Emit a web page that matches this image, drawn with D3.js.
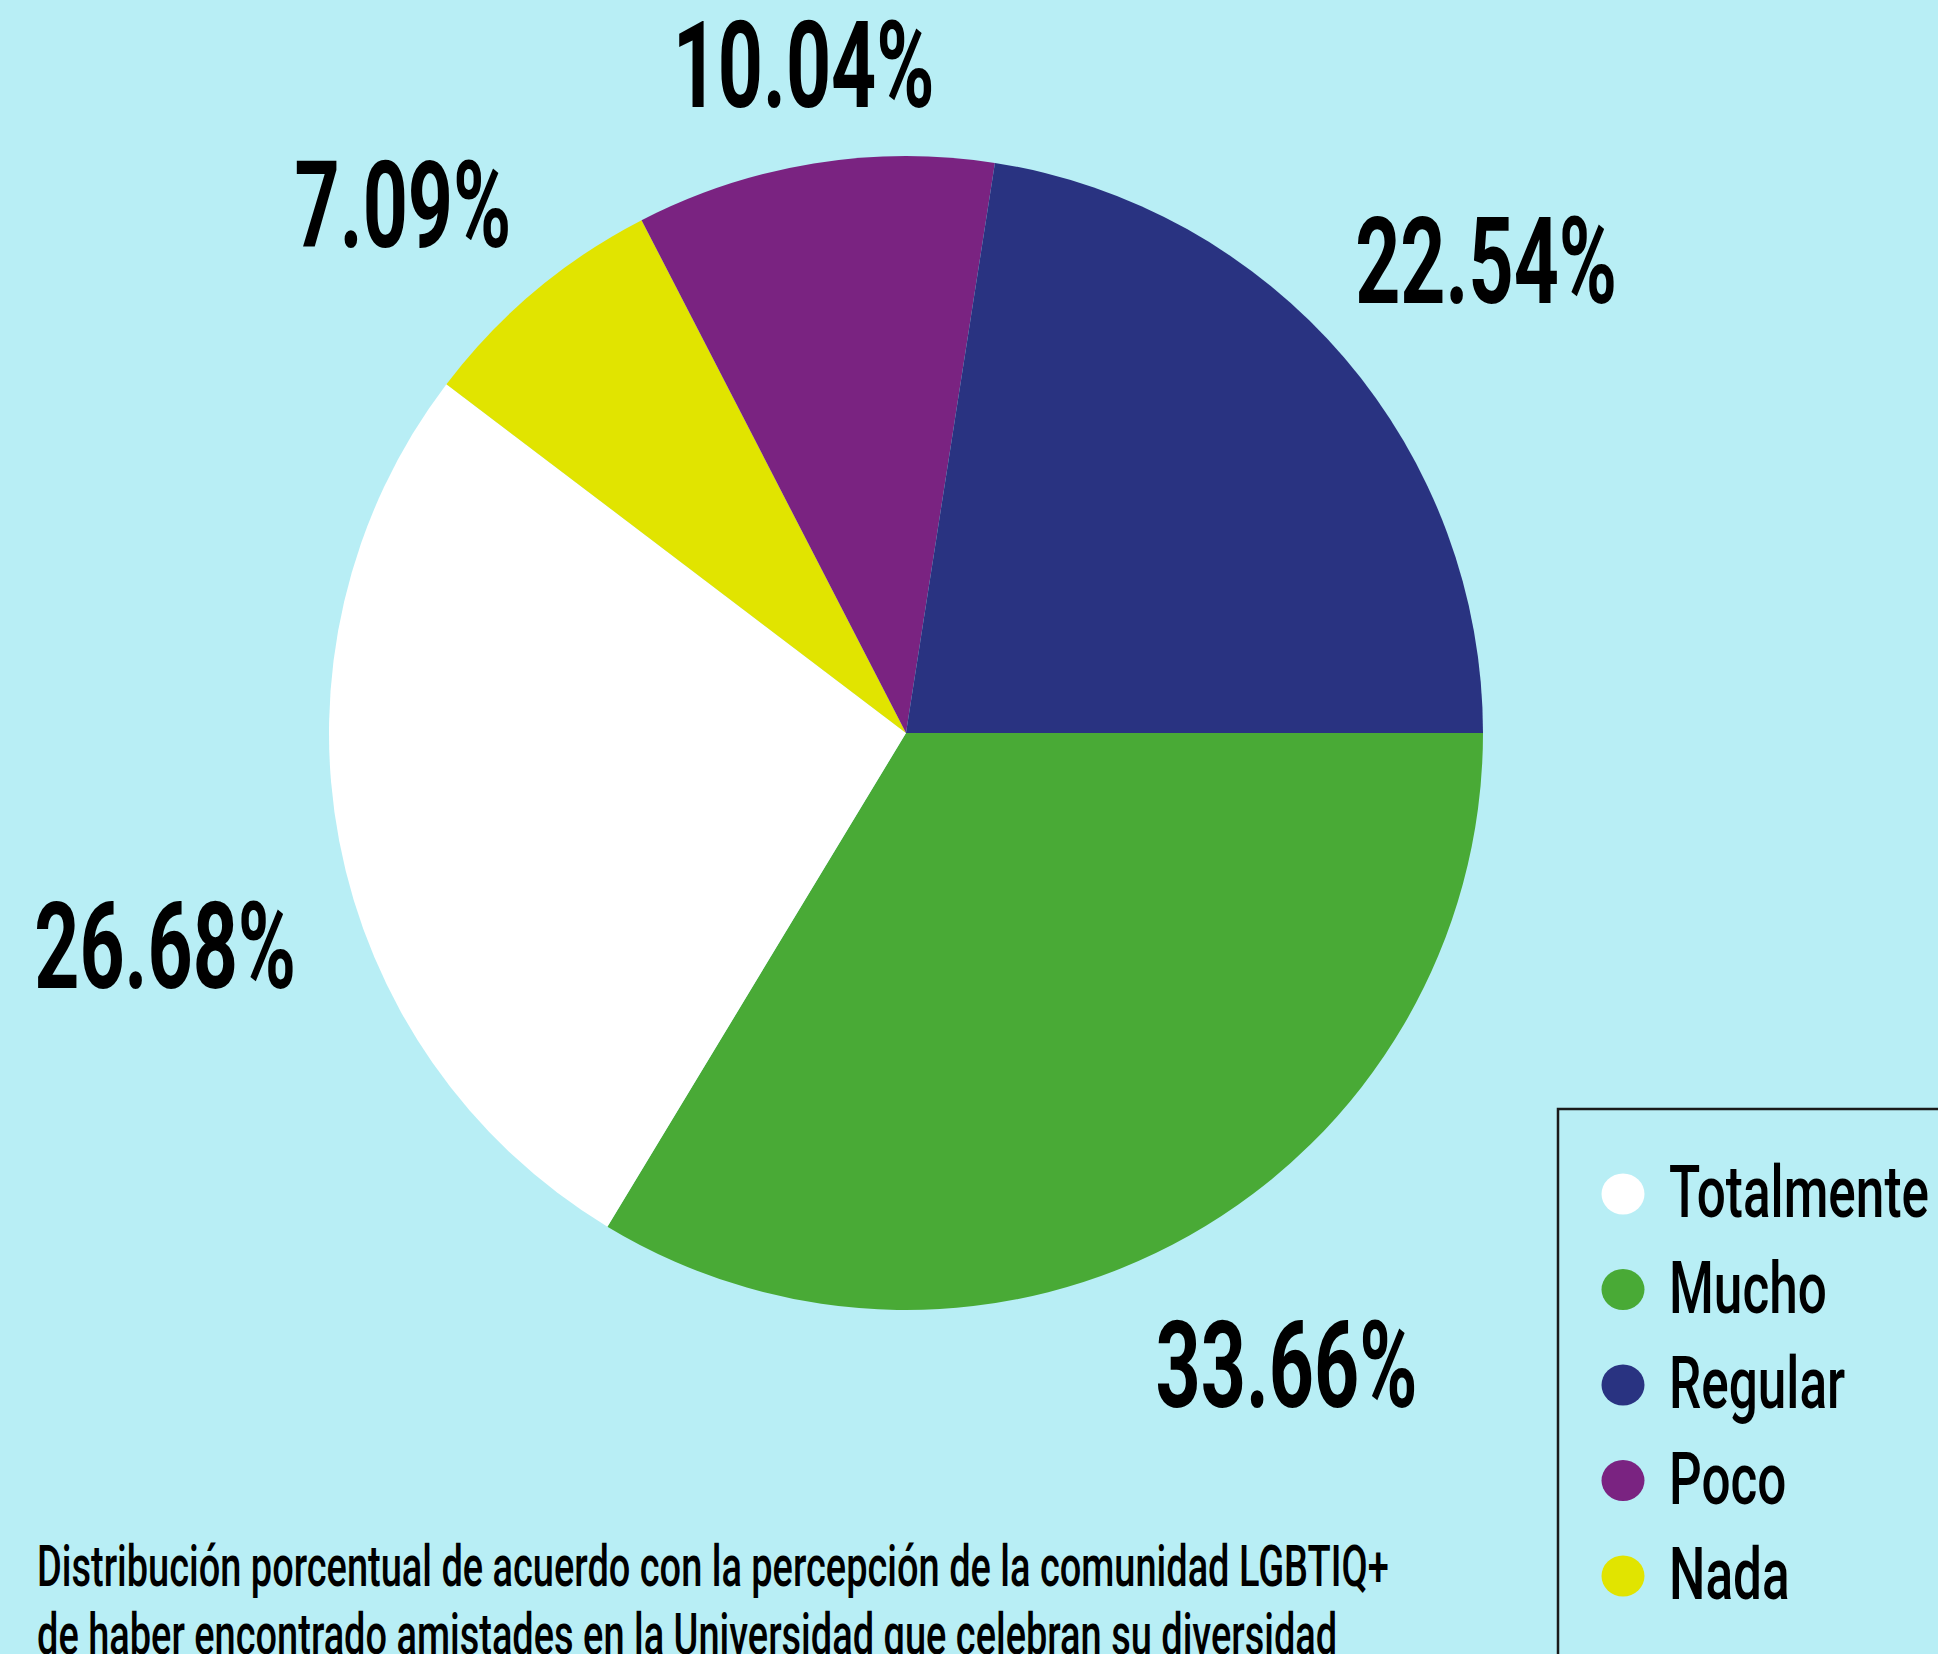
<!DOCTYPE html>
<html>
<head>
<meta charset="utf-8">
<script src="https://cdn.jsdelivr.net/npm/d3@7"></script>
<style>
  html, body { margin: 0; padding: 0; background: #b8eef5; overflow: hidden; }
  svg { display: block; }
</style>
</head>
<body>
<svg id="chart" width="1938" height="1654"></svg>
<script>
// ---- data ----
const categories = ["Mucho", "Totalmente", "Nada", "Poco", "Regular"];
const values = [33.66, 26.68, 7.09, 10.04, 22.54];
const valueLabels = ["33.66%", "26.68%", "7.09%", "10.04%", "22.54%"];
const legendOrder = ["Totalmente", "Mucho", "Regular", "Poco", "Nada"];
const captionLines = [
  "Distribución porcentual de acuerdo con la percepción de la comunidad LGBTIQ+",
  "de haber encontrado amistades en la Universidad que celebran su diversidad"
];

// ---- styling / layout ----
const colors = {
  "Totalmente": "#ffffff",
  "Mucho": "#49aa36",
  "Regular": "#293381",
  "Poco": "#7a2381",
  "Nada": "#e1e400"
};
const FONT = "Roboto, 'DejaVu Sans Condensed', sans-serif";
const W = 1938, H = 1654;
const cx = 906, cy = 733, R = 577;
const labelR = 740;
const labelNudge = {
  "Mucho": [17, -13],
  "Totalmente": [-14, 74],
  "Nada": [-27, 39],
  "Poco": [16, 62],
  "Regular": [18, 9]
};

const svg = d3.select("#chart");
svg.append("rect").attr("width", W).attr("height", H).attr("fill", "#b8eef5");

// helper: natural width of a string in a given font (used to condense text horizontally)
function measure(str, size, weight) {
  const t = svg.append("text")
    .attr("font-family", FONT).attr("font-size", size).attr("font-weight", weight)
    .text(str);
  const w = t.node().getComputedTextLength();
  t.remove();
  return w;
}

const data = categories.map((c, i) => ({ cat: c, value: values[i], label: valueLabels[i] }));

const pie = d3.pie()
  .sort(null)
  .value(d => d.value)
  .startAngle(Math.PI / 2)
  .endAngle(Math.PI / 2 + 2 * Math.PI);

const arcs = pie(data);
const arc = d3.arc().innerRadius(0).outerRadius(R);

const g = svg.append("g").attr("transform", `translate(${cx},${cy})`);
g.selectAll("path.slice")
  .data(arcs)
  .join("path")
  .attr("class", "slice")
  .attr("d", arc)
  .attr("fill", d => colors[d.data.cat]);

// percentage labels
const pctSize = 120, pctWeight = 700;
const pctScale = 262 / measure("22.54%", pctSize, pctWeight);
const capHalf = 42;
g.selectAll("text.pct")
  .data(arcs)
  .join("text")
  .attr("class", "pct")
  .attr("transform", d => {
    const a = (d.startAngle + d.endAngle) / 2;
    const x = labelR * Math.sin(a) + labelNudge[d.data.cat][0];
    const y = -labelR * Math.cos(a) + labelNudge[d.data.cat][1] + capHalf;
    return `translate(${x},${y}) scale(${pctScale},1)`;
  })
  .attr("text-anchor", "middle")
  .attr("font-family", FONT)
  .attr("font-weight", pctWeight)
  .attr("font-size", pctSize)
  .attr("fill", "#000")
  .text(d => d.data.label);

// legend
const legend = svg.append("g");
legend.append("rect")
  .attr("x", 1558).attr("y", 1109)
  .attr("width", 600).attr("height", 800)
  .attr("fill", "none")
  .attr("stroke", "#1a1a1a")
  .attr("stroke-width", 2.5);

const legSize = 72, legWeight = 500;
const legScale = 260 / measure("Totalmente", legSize, legWeight);
const ly = d3.scalePoint().domain(legendOrder).range([1194, 1576]);
const items = legend.selectAll("g.item")
  .data(legendOrder)
  .join("g")
  .attr("class", "item");
items.append("ellipse")
  .attr("cx", 1623)
  .attr("cy", d => ly(d))
  .attr("rx", 21.5).attr("ry", 20.5)
  .attr("fill", d => colors[d]);
items.append("text")
  .attr("transform", d => `translate(1669,${ly(d) + 23}) scale(${legScale},1)`)
  .attr("font-family", FONT)
  .attr("font-weight", legWeight)
  .attr("font-size", legSize)
  .attr("fill", "#000")
  .text(d => d);

// caption
const capSize = 57, capWeight = 500;
const capScale = 1352 / measure(captionLines[0], capSize, capWeight);
svg.selectAll("text.caption")
  .data(captionLines)
  .join("text")
  .attr("class", "caption")
  .attr("transform", (d, i) => `translate(37,${1586 + i * 68}) scale(${capScale},1)`)
  .attr("font-family", FONT)
  .attr("font-weight", capWeight)
  .attr("font-size", capSize)
  .attr("fill", "#000")
  .text(d => d);
</script>
</body>
</html>
